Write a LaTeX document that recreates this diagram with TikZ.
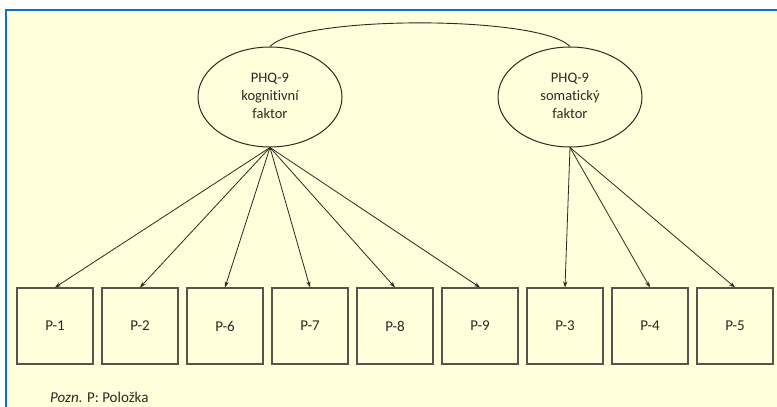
\documentclass[tikz,border=0pt]{standalone}
\usepackage{fontspec}
\setmainfont[Ligatures={NoCommon}]{Carlito}
\usetikzlibrary{arrows.meta,shapes.geometric}
\definecolor{panelfill}{HTML}{FFFFDC}
\definecolor{panelrule}{HTML}{0A72BE}
\definecolor{ink}{HTML}{2E2822}
\tikzset{
  factor/.style={draw=ink, line width=1pt, ellipse, minimum width=144pt, minimum height=100pt,
    inner sep=0pt, align=center, text=ink, font=\fontsize{14.5}{18.3}\selectfont},
  item/.style={draw=ink!80, line width=1.1pt, minimum width=76pt, minimum height=76pt, inner sep=0pt,
    text=ink, font=\fontsize{15}{18}\selectfont},
  load/.style={draw=ink, line width=0.8pt, -{Stealth[length=6pt,width=4.2pt]}},
}
\begin{document}
\begin{tikzpicture}[x=1pt,y=-1pt]
  \useasboundingbox (0,0) rectangle (777,407);
  \fill[white] (0,0) rectangle (777,407);
  \fill[panelfill] (6,9) rectangle (777,407);
  \draw[panelrule, line width=2.4pt] (6.2,407) -- (6.2,9.8) -- (777,9.8);

  % latent factors
  \node[factor] (kog) at (270,97) {\raisebox{-2pt}{\begin{tabular}{@{}c@{}}PHQ-9\\kognitivní\\faktor\end{tabular}}};
  \node[factor] (som) at (570,97) {\raisebox{-2pt}{\begin{tabular}{@{}c@{}}PHQ-9\\somatický\\faktor\end{tabular}}};

  % correlation between factors
  \draw[ink, line width=0.9pt] (kog.north) .. controls (300,15) and (540,15) .. (som.north);

  % observed items
  \foreach \lab [count=\i from 0] in {1,2,6,7,8,9,3,4,5} {
    \node[item] (p\lab) at (55+85*\i,326) {P-\lab};
  }

  % loadings
  \foreach \lab in {1,2,6,7,8,9} \draw[load] (kog.south) -- (p\lab.north);
  \foreach \lab in {3,4,5} \draw[load] (som.south) -- (p\lab.north);

  % note
  \node[anchor=west, text=ink, font=\fontsize{15}{17}\selectfont, inner sep=0pt] (note) at (50,397) {\textit{Pozn.} P: Položka};
\end{tikzpicture}
\end{document}
